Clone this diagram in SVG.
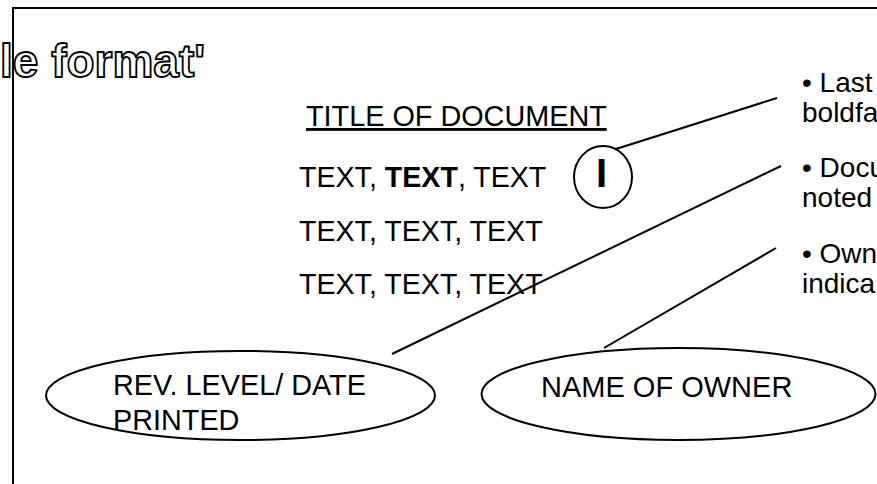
<svg xmlns="http://www.w3.org/2000/svg" width="877" height="484" viewBox="0 0 877 484">
  <style>
    .t { font-family: "Liberation Sans", Arial, sans-serif; fill: #000; }
    .b { font-weight: bold; }
    .shape { fill: #fff; stroke: #000; stroke-width: 2; }
    .conn { stroke: #000; stroke-width: 2; fill: none; }
    .outline { font-family: "Liberation Sans", Arial, sans-serif; font-weight: bold; fill: #fff; stroke: #000; stroke-width: 1.8; }
  </style>
  <rect x="0" y="0" width="877" height="484" fill="#fff"/>

  <g id="heading">
    <text class="outline" x="0" y="77" font-size="46">le format'</text>
  </g>

  <rect id="frame" x="13" y="8" width="900" height="500" fill="none" stroke="#000" stroke-width="2"/>

  <g id="document-title">
    <text class="t" x="306" y="126" font-size="28.8" text-decoration="underline">TITLE OF DOCUMENT</text>
  </g>

  <g id="document-text">
    <text class="t" x="299" y="187" font-size="28.6">TEXT, <tspan class="b">TEXT</tspan>, TEXT</text>
    <text class="t" x="299" y="241" font-size="28.6">TEXT, TEXT, TEXT</text>
    <text class="t" x="299" y="294" font-size="28.6">TEXT, TEXT, TEXT</text>
  </g>

  <g id="revision-marker">
    <ellipse class="shape" cx="603" cy="177" rx="29" ry="31"/>
    <text class="t b" x="601.5" y="187" font-size="40" text-anchor="middle">I</text>
  </g>

  <g id="notes">
    <text class="t" x="802" y="92" font-size="28">• Last</text>
    <text class="t" x="802" y="122" font-size="28">boldfa</text>
    <text class="t" x="802" y="177" font-size="28">• Docu</text>
    <text class="t" x="802" y="207" font-size="28">noted</text>
    <text class="t" x="802" y="263" font-size="28">• Own</text>
    <text class="t" x="802" y="293" font-size="28">indica</text>
  </g>

  <g id="connectors">
    <line class="conn" x1="616" y1="149" x2="777" y2="98"/>
    <line class="conn" x1="392" y1="354" x2="781" y2="166"/>
    <line class="conn" x1="604" y1="348" x2="776" y2="248"/>
  </g>

  <g id="rev-level">
    <ellipse class="shape" cx="240.5" cy="395.5" rx="194.5" ry="44.5"/>
    <text class="t" x="113" y="395" font-size="28.8">REV. LEVEL/ DATE</text>
    <text class="t" x="113" y="430" font-size="28.8">PRINTED</text>
  </g>

  <g id="owner">
    <ellipse class="shape" cx="678.5" cy="394" rx="197" ry="46"/>
    <text class="t" x="541" y="397" font-size="29">NAME OF OWNER</text>
  </g>
</svg>
